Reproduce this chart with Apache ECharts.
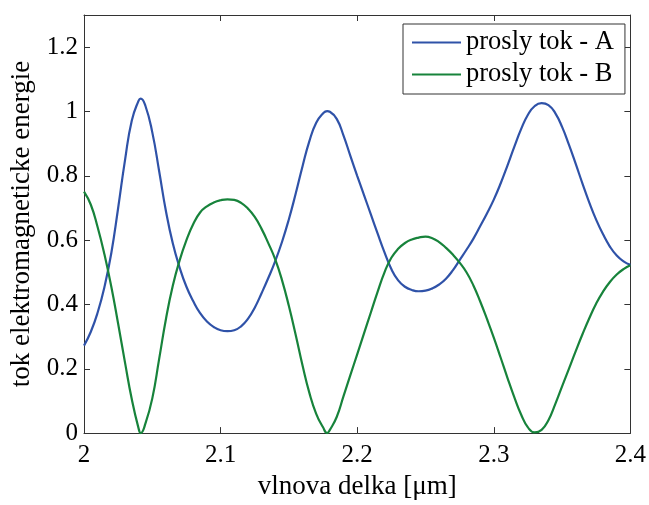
<!DOCTYPE html>
<html><head><meta charset="utf-8">
<script src="https://cdn.jsdelivr.net/npm/echarts@6/dist/echarts.min.js"></script>
<style>html,body{margin:0;padding:0;background:#fff}#c{width:649px;height:505px}</style>
</head><body><div id="c"></div>
<script>
const wavelength = [2.000,2.005,2.010,2.015,2.020,2.025,2.030,2.035,2.040,2.0415,2.045,2.050,2.055,2.060,2.065,2.070,2.075,2.080,2.085,2.090,2.095,2.100,2.105,2.110,2.115,2.120,2.125,2.130,2.135,2.140,2.145,2.150,2.155,2.160,2.165,2.170,2.175,2.178,2.180,2.185,2.190,2.195,2.200,2.205,2.210,2.215,2.220,2.225,2.230,2.235,2.240,2.245,2.250,2.255,2.260,2.265,2.270,2.275,2.280,2.285,2.290,2.295,2.300,2.305,2.310,2.315,2.320,2.325,2.330,2.335,2.340,2.345,2.350,2.355,2.360,2.365,2.370,2.375,2.380,2.385,2.390,2.395,2.400];
const tokA = [0.272,0.315,0.375,0.455,0.560,0.700,0.848,0.972,1.034,1.040,1.017,0.935,0.815,0.690,0.590,0.515,0.455,0.410,0.373,0.347,0.330,0.320,0.317,0.320,0.332,0.355,0.390,0.435,0.483,0.535,0.595,0.665,0.745,0.830,0.908,0.965,0.994,1.001,0.999,0.977,0.925,0.862,0.800,0.740,0.680,0.620,0.562,0.510,0.475,0.455,0.445,0.441,0.443,0.450,0.462,0.480,0.506,0.538,0.570,0.604,0.643,0.683,0.726,0.776,0.832,0.890,0.945,0.990,1.017,1.026,1.020,0.995,0.952,0.897,0.837,0.775,0.716,0.663,0.618,0.580,0.552,0.534,0.523];
const tokB = [0.751,0.710,0.640,0.555,0.455,0.340,0.220,0.105,0.014,0.000,0.030,0.108,0.230,0.355,0.458,0.537,0.600,0.650,0.686,0.705,0.717,0.724,0.727,0.725,0.716,0.698,0.672,0.635,0.590,0.540,0.475,0.395,0.305,0.210,0.125,0.060,0.018,0.000,0.010,0.050,0.115,0.180,0.245,0.310,0.375,0.440,0.500,0.545,0.573,0.591,0.602,0.608,0.611,0.606,0.594,0.576,0.555,0.530,0.500,0.460,0.410,0.355,0.297,0.235,0.172,0.112,0.058,0.018,0.002,0.010,0.040,0.090,0.145,0.200,0.255,0.308,0.358,0.403,0.440,0.470,0.493,0.510,0.522];
const seriesNames = ['prosly tok - A', 'prosly tok - B'];
const xName = 'vlnova delka [\u03bcm]';
const yName = 'tok elektromagneticke energie';

const FONT = '"Liberation Serif", "Times New Roman", serif';
const frame = '#333333';
function mkX(pos, labels) {
  return {
    type: 'value', min: 2, max: 2.4, interval: 0.1, position: pos,
    axisLine: {show: true, onZero: false, lineStyle: {color: frame, width: 1}},
    axisTick: {show: true, inside: true, length: 6, lineStyle: {color: frame}},
    axisLabel: labels ? {show: true, color: '#000', fontFamily: FONT, fontSize: 25, margin: 10} : {show: false},
    splitLine: {show: false},
    name: labels ? xName : '', nameLocation: 'middle', nameGap: 36,
    nameTextStyle: {fontFamily: FONT, fontSize: 27, color: '#000'}
  };
}
function mkY(pos, labels) {
  return {
    type: 'value', min: 0, max: 1.3, interval: 0.2, position: pos,
    axisLine: {show: true, onZero: false, lineStyle: {color: frame, width: 1}},
    axisTick: {show: true, inside: true, length: 6, lineStyle: {color: frame}},
    axisLabel: labels ? {show: true, showMaxLabel: false, color: '#000', fontFamily: FONT, fontSize: 25, margin: 6,
      formatter: v => (Math.abs(v * 5 - Math.round(v * 5)) < 1e-6 ? String(Math.round(v * 10) / 10) : '')} : {show: false},
    splitLine: {show: false},
    name: labels ? yName : '', nameLocation: 'middle', nameGap: 47,
    nameTextStyle: {fontFamily: FONT, fontSize: 27, color: '#000'}
  };
}
const chart = echarts.init(document.getElementById('c'), null, {renderer: 'canvas'});
chart.setOption({
  animation: false,
  backgroundColor: '#fff',
  grid: {left: 84, right: 17, top: 15, bottom: 65, containLabel: false},
  xAxis: [mkX('bottom', true), mkX('top', false)],
  yAxis: [mkY('left', true), mkY('right', false)],
  legend: {
    orient: 'vertical', left: 403, top: 24,
    itemWidth: 49, itemHeight: 2, itemGap: 5, icon: 'rect',
    padding: [5, 11, 6, 9],
    borderColor: frame, borderWidth: 1, backgroundColor: '#fff',
    textStyle: {fontFamily: FONT, fontSize: 26.5, lineHeight: 26, color: '#000'},
    data: seriesNames
  },
  series: [
    {name: seriesNames[0], type: 'line', xAxisIndex: 0, yAxisIndex: 0, showSymbol: false, symbol: 'none', smooth: 0.5,
      color: '#2f52a8', lineStyle: {width: 2.2, color: '#2f52a8'},
      data: wavelength.map((x, i) => [x, tokA[i]])},
    {name: seriesNames[1], type: 'line', xAxisIndex: 0, yAxisIndex: 0, showSymbol: false, symbol: 'none', smooth: 0.5,
      color: '#17833b', lineStyle: {width: 2.2, color: '#17833b'},
      data: wavelength.map((x, i) => [x, tokB[i]])}
  ]
});
</script></body></html>
